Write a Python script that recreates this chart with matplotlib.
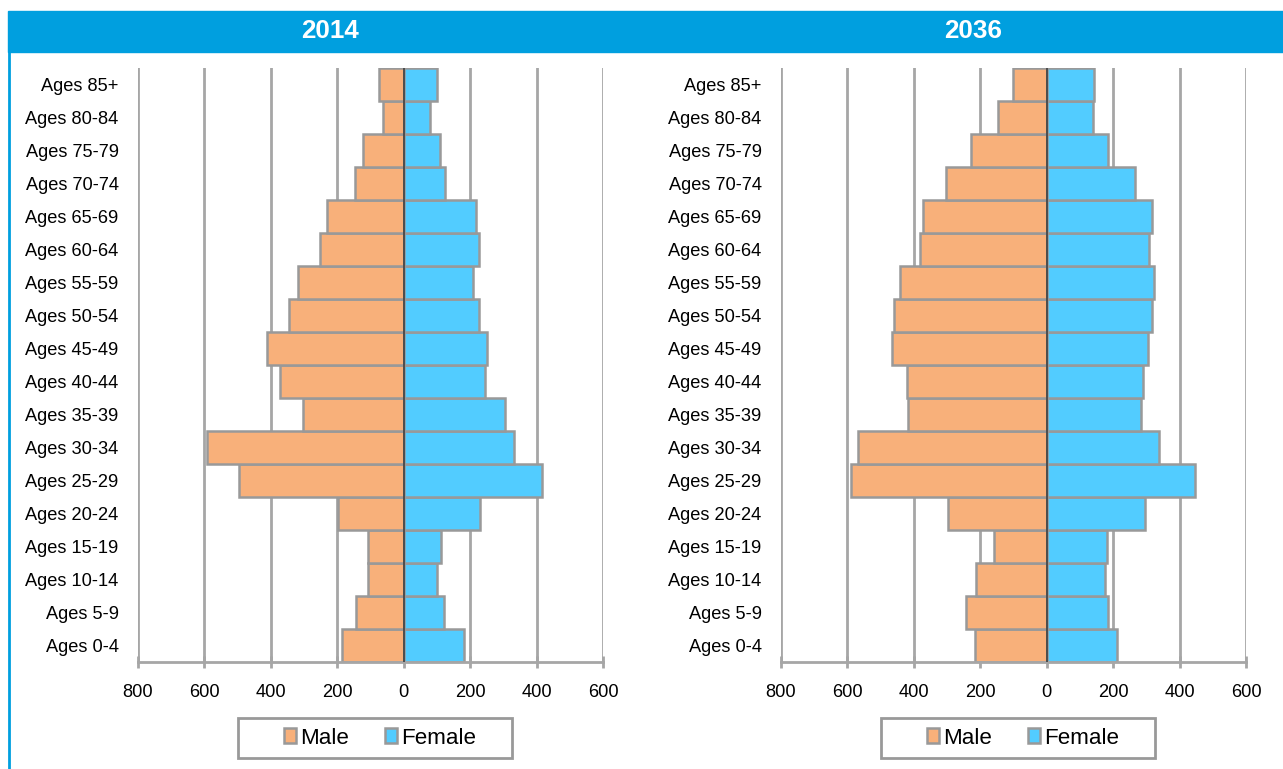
"""Population pyramids, 2014 vs 2036, side by side under a blue header band."""
import matplotlib
matplotlib.use("Agg")
import matplotlib.pyplot as plt
from matplotlib import font_manager
from matplotlib.patches import Rectangle
import numpy as np

narrow_names = {f.name for f in font_manager.fontManager.ttflist}
if "Liberation Sans Narrow" in narrow_names:
    plt.rcParams["font.family"] = ["Liberation Sans Narrow", "Liberation Sans"]
    scale = 1.0
else:
    plt.rcParams["font.family"] = ["Liberation Sans", "DejaVu Sans"]
    scale = 0.85

age_groups = ["Ages 0-4", "Ages 5-9", "Ages 10-14", "Ages 15-19", "Ages 20-24",
              "Ages 25-29", "Ages 30-34", "Ages 35-39", "Ages 40-44", "Ages 45-49",
              "Ages 50-54", "Ages 55-59", "Ages 60-64", "Ages 65-69", "Ages 70-74",
              "Ages 75-79", "Ages 80-84", "Ages 85+"]

male_2014 = [186, 143, 109, 107, 198, 495, 592, 302, 372, 412,
             344, 317, 252, 232, 146, 123, 63, 75]
female_2014 = [181, 120, 100, 113, 230, 417, 333, 306, 245, 251,
               226, 208, 226, 219, 124, 108, 79, 101]

male_2036 = [217, 243, 214, 160, 298, 589, 568, 418, 420, 465,
             461, 441, 383, 371, 302, 228, 147, 101]
female_2036 = [213, 186, 175, 180, 295, 447, 337, 285, 291, 306,
               318, 322, 309, 316, 266, 184, 138, 143]

years = ["2014", "2036"]
x_ticks = [-800, -600, -400, -200, 0, 200, 400, 600]

MALE_COLOR = "#F8B07A"
FEMALE_COLOR = "#52CCFF"
EDGE = "#999999"
GRID = "#A6A6A6"
BAND = "#009FDF"

W, H = 1283, 769
fig = plt.figure(figsize=(W / 100, H / 100), dpi=100)

# header band and left border of the panel
fig.patches.append(Rectangle((8 / W, 1 - 52 / H), 1 - 8 / W, 41 / H,
                             transform=fig.transFigure, color=BAND, zorder=0))
fig.lines.append(plt.Line2D([8.5 / W, 8.5 / W], [0, 1 - 52 / H],
                            transform=fig.transFigure, color=BAND, lw=2))

panels = [
    (138, male_2014, female_2014),
    (781, male_2036, female_2036),
]

y = np.arange(len(age_groups))
for (left_px, male, female), year in zip(panels, years):
    ax = fig.add_axes([left_px / W, 1 - 662 / H, 465 / W, 594 / H])
    ax.barh(y, -np.array(male), height=1.0, color=MALE_COLOR,
            edgecolor=EDGE, linewidth=1.8, zorder=2, label="Male")
    ax.barh(y, female, height=1.0, color=FEMALE_COLOR,
            edgecolor=EDGE, linewidth=1.8, zorder=2, label="Female")
    ax.axvline(0, color="#404040", lw=1.2, zorder=4)

    ax.set_xlim(-800, 600)
    ax.set_ylim(-0.5, len(age_groups) - 0.5)
    ax.set_xticks(x_ticks)
    ax.set_xticklabels([str(abs(t)) for t in x_ticks])
    ax.set_yticks(y)
    ax.set_yticklabels(age_groups)

    ax.grid(axis="x", color=GRID, lw=2, zorder=0)
    ax.set_axisbelow(True)
    for s in ("top", "right", "left"):
        ax.spines[s].set_visible(False)
    ax.spines["bottom"].set_color(GRID)
    ax.spines["bottom"].set_linewidth(2)
    ax.tick_params(axis="x", direction="inout", length=9, width=2, color=GRID,
                   labelsize=15.5 * scale, pad=11)
    ax.tick_params(axis="y", length=0, labelsize=15.5 * scale, pad=14)

    # legend box drawn separately so its padding can match the reference
    fig.patches.append(Rectangle(((left_px + 100) / W, 1 - 758 / H), 274 / W, 40 / H,
                                 transform=fig.transFigure, facecolor="white",
                                 edgecolor=EDGE, linewidth=2, zorder=1))
    leg = fig.legend(*ax.get_legend_handles_labels(), loc="center",
                     bbox_to_anchor=((left_px + 242) / W, 1 - 738 / H), ncol=2,
                     fontsize=19 * scale, frameon=False,
                     handlelength=0.55, handleheight=0.62, handletextpad=0.18,
                     columnspacing=1.6, borderpad=0.2)

    fig.text((left_px + 192) / W, 1 - 31 / H, year, color="white",
             fontsize=22 * scale, fontweight="bold", ha="center", va="center")

fig.savefig("out.png", dpi=100, facecolor="white")
plt.close(fig)
